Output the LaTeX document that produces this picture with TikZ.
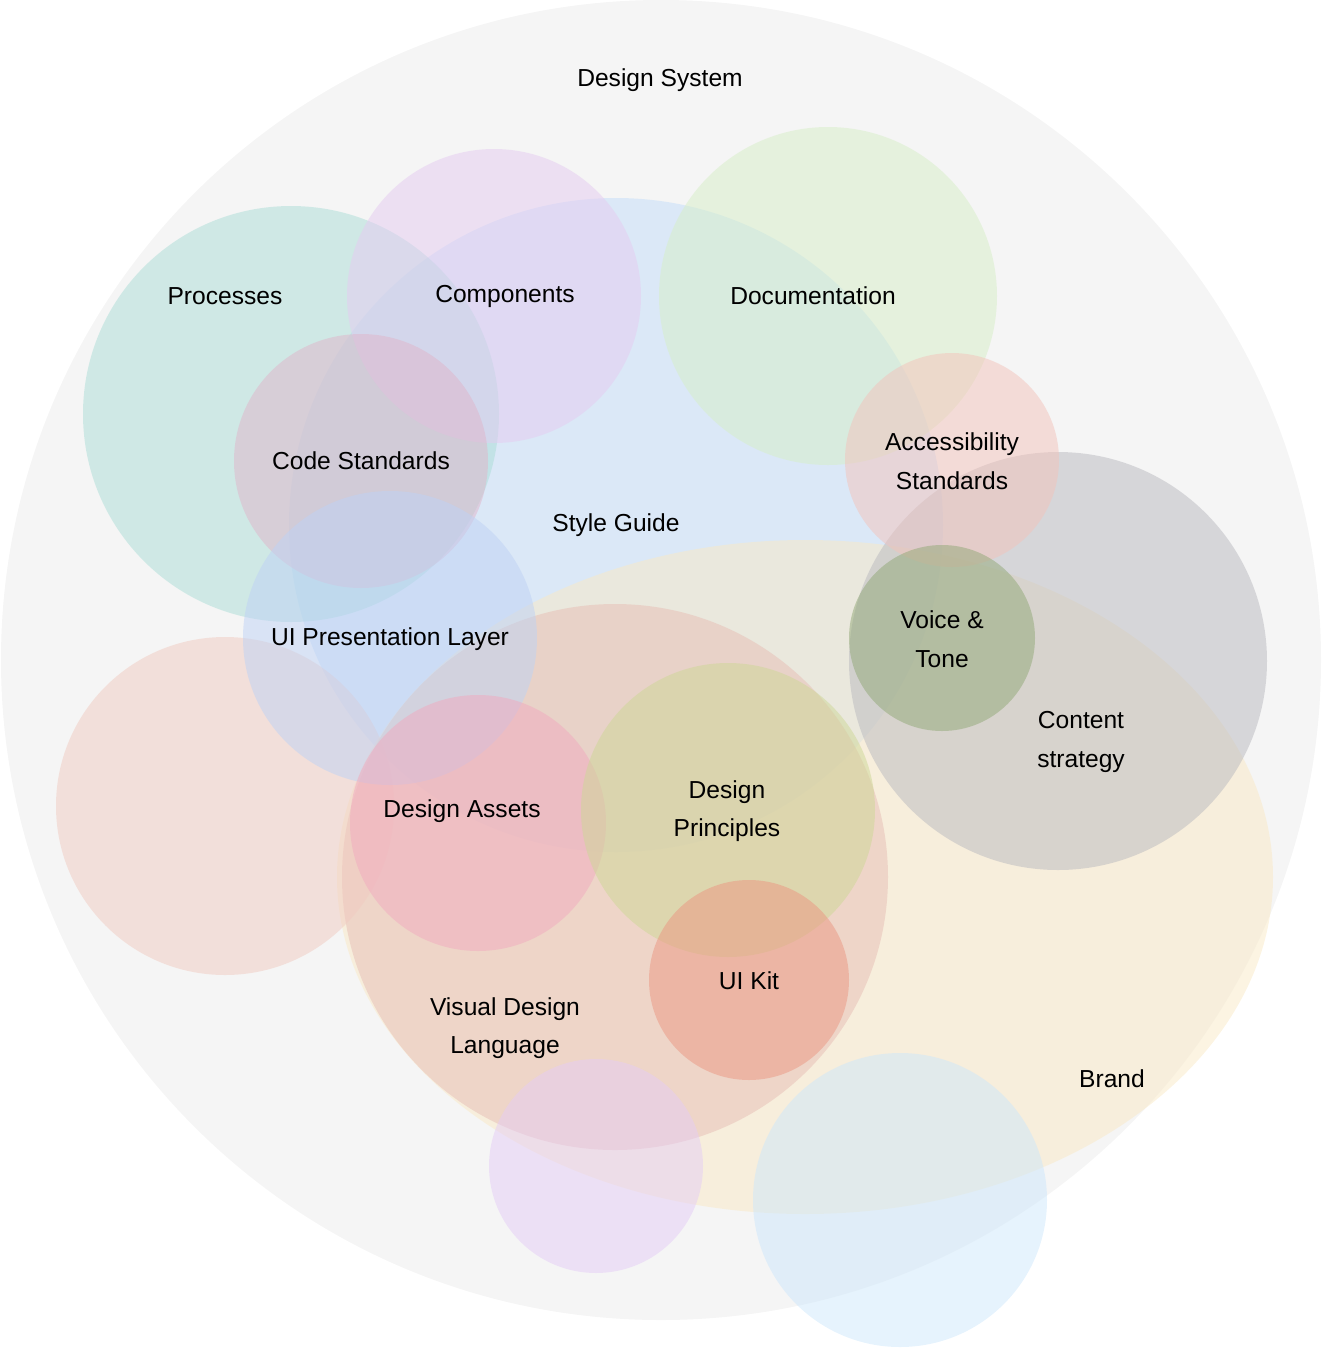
\documentclass[tikz,border=0pt]{standalone}
\usepackage{fontspec}
\setmainfont{Liberation Sans}
\usetikzlibrary{positioning}
\definecolor{sysgray}{RGB}{245,245,245}
\definecolor{guideblue}{RGB}{195,221,249}
\definecolor{brandcream}{RGB}{249,233,197}
\definecolor{vdlsalmon}{RGB}{231,189,181}
\definecolor{procteal}{RGB}{171,221,215}
\definecolor{complilac}{RGB}{229,203,241}
\definecolor{docgreen}{RGB}{215,239,199}
\definecolor{contgray}{RGB}{185,185,191}
\definecolor{codemauve}{RGB}{224,181,202}
\definecolor{accpink}{RGB}{243,195,187}
\definecolor{uiplblue}{RGB}{190,210,245}
\definecolor{assetred}{RGB}{241,170,191}
\definecolor{princolive}{RGB}{205,215,150}
\definecolor{kitsalmon}{RGB}{235,150,130}
\definecolor{voicegreen}{RGB}{145,168,118}
\definecolor{leftpeach}{RGB}{241,203,193}
\definecolor{botlilac}{RGB}{229,205,245}
\definecolor{botblue}{RGB}{205,231,251}

\begin{document}
\begin{tikzpicture}[x=0.02cm,y=-0.02cm,
  blob/.style={fill opacity=0.5},
  lab/.style={font=\fontsize{14}{22}\selectfont,align=center,text=black}]
\useasboundingbox (0,0) rectangle (1323,1350);
% outer set
\fill[sysgray] (661,660) circle[radius=660];
% sets, back to front
\fill[blob,guideblue] (616,525) circle[radius=327];
\fill[blob,brandcream] (805,877) ellipse[x radius=468,y radius=337];
\foreach \cx/\cy/\r/\col in {615/877/273/vdlsalmon,291/414/208/procteal,494/296/147/complilac,
  828/296/169/docgreen,1058/661/209/contgray,361/461/127/codemauve,952/460/107/accpink,
  225/806/169/leftpeach,390/638/147/uiplblue,478/823/128/assetred,728/810/147/princolive,
  942/638/93/voicegreen,749/980/100/kitsalmon,596/1166/107/botlilac,900/1200/147/botblue}{
  \fill[blob,\col] (\cx,\cy) circle[radius=\r];
}
% labels
\node[lab] (dsys) at (660,80) {Design System};
\node[lab] (proc) at (225,296) {Processes};
\node[lab] (comp) at (505,296) {Components};
\node[lab] (docu) at (813,296) {Documentation};
\node[lab] (code) at (361,461) {Code Standards};
\node[lab] (access) at (952,461) {Accessibility\\Standards};
\node[lab] (guide) at (616,525) {Style Guide};
\node[lab] (uipl) at (390,639) {UI Presentation Layer};
\node[lab] (voice) at (942,639) {Voice \&\\Tone};
\node[lab] (content) at (1081,742) {Content\\strategy};
\node[lab] (assets) at (462,811) {Design Assets};
\node[lab] (princ) at (727,811) {Design\\Principles};
\node[lab] (uikit) at (749,981) {UI Kit};
\node[lab] (vdl) at (505,1028) {Visual Design\\Language};
\node[lab] (brand) at (1112,1079) {Brand};
\end{tikzpicture}
\end{document}
